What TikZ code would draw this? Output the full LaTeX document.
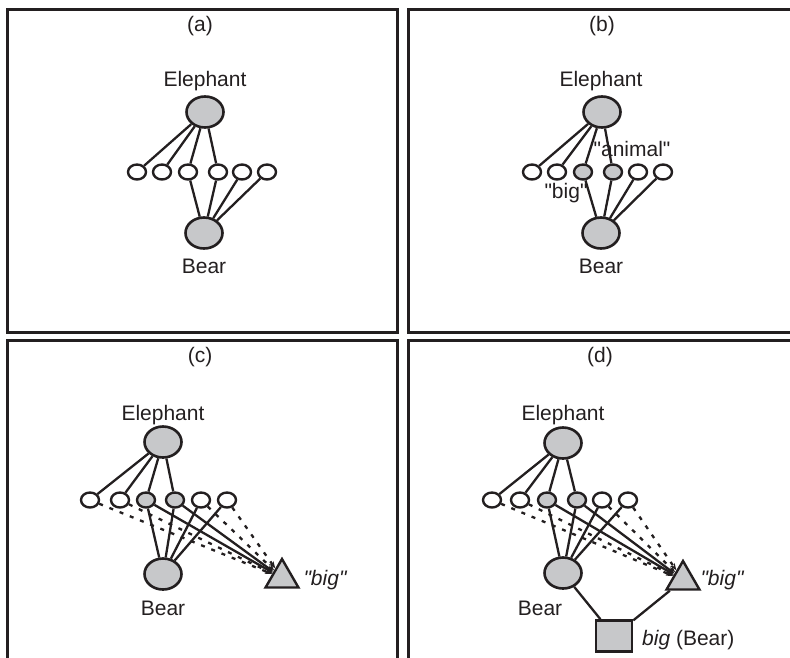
\documentclass[tikz,border=0pt]{standalone}
\usepackage{fontspec}
\setmainfont{Liberation Sans}[Ligatures=TeXOff]
\usetikzlibrary{shapes.geometric,arrows.meta}
\definecolor{nodegray}{RGB}{199,200,202}
\definecolor{ink}{RGB}{35,31,32}
\begin{document}
\begin{tikzpicture}[x=1pt,y=-1pt,
  bignode/.style={ellipse,draw=ink,fill=nodegray,line width=2.6pt,minimum width=37pt,minimum height=31pt,inner sep=0pt},
  feat/.style={ellipse,draw=ink,fill=white,line width=2.4pt,minimum width=18pt,minimum height=15pt,inner sep=0pt},
  featon/.style={feat,fill=nodegray},
  tri/.style={regular polygon,regular polygon sides=3,draw=ink,fill=nodegray,line width=2.4pt,minimum size=38pt,inner sep=0pt},
  sq/.style={rectangle,draw=ink,fill=nodegray,line width=2.6pt,minimum width=36pt,minimum height=31pt,inner sep=0pt},
  link/.style={draw=ink,line width=2.3pt},
  dlink/.style={draw=ink,line width=2.3pt,dash pattern=on 4pt off 7pt},
  arr/.style={-{Stealth[length=7pt,width=5.5pt]}},
  lbl/.style={font=\fontsize{21}{25}\selectfont,text=ink,inner sep=0pt,anchor=base},
  panel/.style={draw=ink,line width=3pt}
]
\useasboundingbox (0,0) rectangle (790,657);
\clip (0,0) rectangle (790,657);

% panels
\draw[panel] (7,9) rectangle (397,332);
\draw[panel] (408,9) rectangle (800,332);
\draw[panel] (7,340) rectangle (397,680);
\draw[panel] (408,340) rectangle (800,680);

% ---------- (a)
\node[bignode] (aE) at (205,112) {};
\node[bignode] (aB) at (204,233) {};
\foreach \n/\x in {1/137,2/162,3/188,4/218,5/242,6/267}
  \node[feat] (a\n) at (\x,172) {};
\foreach \n in {1,...,4} \draw[link] (aE) -- (a\n);
\foreach \n in {3,...,6} \draw[link] (aB) -- (a\n);
\node[lbl] (aT) at (200,31) {(a)};
\node[lbl] (aEl) at (205,86) {Elephant};
\node[lbl] (aBl) at (204,273) {Bear};

% ---------- (b)
\node[bignode] (bE) at (602,112) {};
\node[bignode] (bB) at (601,233) {};
\foreach \n/\x/\s in {1/532/feat,2/557/feat,3/583/featon,4/613/featon,5/638/feat,6/663/feat}
  \node[\s] (b\n) at (\x,172) {};
\foreach \n in {1,...,4} \draw[link] (bE) -- (b\n);
\foreach \n in {3,...,6} \draw[link] (bB) -- (b\n);
\node[lbl] (bT) at (602,31) {(b)};
\node[lbl] (bEl) at (601,86) {Elephant};
\node[lbl] (bBl) at (601,273) {Bear};
\node[lbl] (bAn) at (632,156) {"animal"};
\node[lbl] (bBig) at (566,198) {"big"};

% ---------- (c)
\node[bignode] (cE) at (163,442) {};
\node[bignode] (cB) at (163,574) {};
\node[tri] (cTr) at (282,578) {};
\foreach \n/\x/\s in {1/90/feat,2/120/feat,3/146/featon,4/175/featon,5/201/feat,6/227/feat}
  \node[\s] (c\n) at (\x,500) {};
\foreach \n in {1,...,4} \draw[link] (cE) -- (c\n);
\foreach \n in {3,...,6} \draw[link] (cB) -- (c\n);
\foreach \n in {1,2,5,6} \draw[dlink,arr] (c\n) -- (cTr);
\foreach \n in {3,4} \draw[link,arr] (c\n) -- (cTr);
\node[lbl] (cT) at (200,362) {(c)};
\node[lbl] (cEl) at (163,420) {Elephant};
\node[lbl] (cBl) at (163,615) {Bear};
\node[lbl] (cBig) at (325,585) {\itshape "big"};

% ---------- (d)
\node[bignode] (dE) at (563,443) {};
\node[bignode] (dB) at (563,573) {};
\node[tri] (dTr) at (683,580) {};
\node[sq] (dSq) at (614,636) {};
\foreach \n/\x/\s in {1/492/feat,2/520/feat,3/547/featon,4/577/featon,5/602/feat,6/628/feat}
  \node[\s] (d\n) at (\x,500) {};
\foreach \n in {1,...,4} \draw[link] (dE) -- (d\n);
\foreach \n in {3,...,6} \draw[link] (dB) -- (d\n);
\foreach \n in {1,2,5,6} \draw[dlink,arr] (d\n) -- (dTr);
\foreach \n in {3,4} \draw[link,arr] (d\n) -- (dTr);
\draw[link] (dB) -- (dSq);
\draw[link] (dSq) -- (dTr);
\node[lbl] (dT) at (600,362) {(d)};
\node[lbl] (dEl) at (563,420) {Elephant};
\node[lbl] (dBl) at (540,615) {Bear};
\node[lbl] (dBig) at (722,585) {\itshape "big"};
\node[lbl,anchor=base west] (dSqL) at (642,645) {\itshape big\upshape\ (Bear)};
\end{tikzpicture}
\end{document}
